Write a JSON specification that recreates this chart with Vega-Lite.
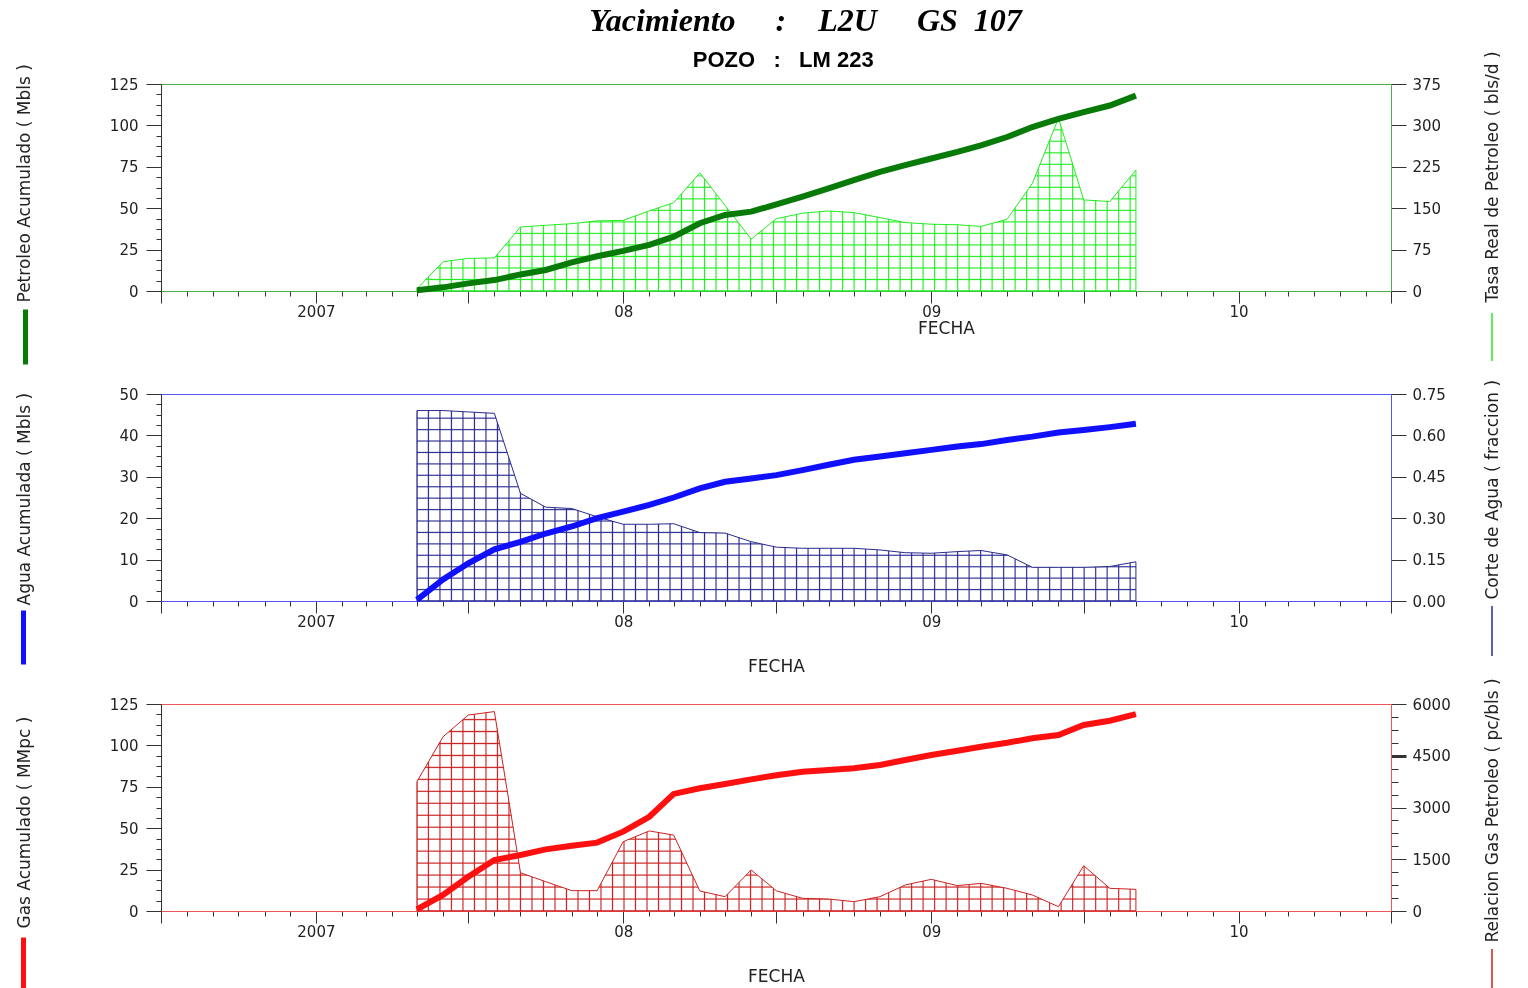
{
  "$schema": "https://vega.github.io/schema/vega-lite/v6.json",
  "background": "white",
  "padding": {"left": 14, "top": 5, "right": 5, "bottom": 0},
  "title": {
    "text": "\u200b\u00a0Yacimiento\u00a0\u00a0\u00a0\u00a0\u00a0:\u00a0\u00a0\u00a0\u00a0L2U\u00a0\u00a0\u00a0\u00a0\u00a0GS\u00a0\u00a0107",
    "subtitle": "POZO\u00a0\u00a0\u00a0:\u00a0\u00a0\u00a0LM 223\u00a0\u00a0\u00a0\u00a0\u00a0\u00a0\u200b",
    "font": "Liberation Serif", "fontSize": 32, "fontStyle": "italic", "fontWeight": "bold", "color": "#000",
    "subtitleFont": "Liberation Sans", "subtitleFontSize": 22, "subtitleFontWeight": "bold", "subtitleColor": "#000",
    "subtitlePadding": 12, "anchor": "middle", "offset": -22, "dx": 44
  },
  "data": {"values": [
    {"fecha":"2007-05-01","np":0.5,"qo":4,"wp":0.3,"wc":0.69,"gp":1.0,"rgp":3750},
    {"fecha":"2007-06-01","np":2.2,"qo":53,"wp":5.2,"wc":0.69,"gp":9.7,"rgp":5050},
    {"fecha":"2007-07-01","np":4.6,"qo":59,"wp":9.1,"wc":0.685,"gp":20.7,"rgp":5680},
    {"fecha":"2007-08-01","np":6.6,"qo":60,"wp":12.5,"wc":0.68,"gp":30.8,"rgp":5780},
    {"fecha":"2007-09-01","np":10.0,"qo":116,"wp":14.3,"wc":0.39,"gp":33.8,"rgp":1110},
    {"fecha":"2007-10-01","np":12.7,"qo":119,"wp":16.3,"wc":0.34,"gp":37.2,"rgp":850},
    {"fecha":"2007-11-01","np":17.3,"qo":122,"wp":18.0,"wc":0.335,"gp":39.4,"rgp":590},
    {"fecha":"2007-12-01","np":21.0,"qo":127,"wp":20.0,"wc":0.305,"gp":41.3,"rgp":590},
    {"fecha":"2008-01-01","np":24.2,"qo":128,"wp":21.6,"wc":0.278,"gp":47.9,"rgp":2010},
    {"fecha":"2008-02-01","np":27.8,"qo":145,"wp":23.2,"wc":0.278,"gp":56.9,"rgp":2320},
    {"fecha":"2008-03-01","np":32.8,"qo":160,"wp":25.0,"wc":0.28,"gp":70.7,"rgp":2200},
    {"fecha":"2008-04-01","np":40.9,"qo":214,"wp":27.2,"wc":0.248,"gp":74.1,"rgp":580},
    {"fecha":"2008-05-01","np":45.9,"qo":155,"wp":28.8,"wc":0.246,"gp":76.7,"rgp":415},
    {"fecha":"2008-06-01","np":47.9,"qo":94,"wp":29.6,"wc":0.215,"gp":79.5,"rgp":1190},
    {"fecha":"2008-07-01","np":52.3,"qo":131,"wp":30.4,"wc":0.195,"gp":82.0,"rgp":585},
    {"fecha":"2008-08-01","np":57,"qo":141,"wp":31.6,"wc":0.191,"gp":84.1,"rgp":367},
    {"fecha":"2008-09-01","np":62,"qo":145,"wp":32.9,"wc":0.191,"gp":85.1,"rgp":348},
    {"fecha":"2008-10-01","np":67,"qo":142,"wp":34.1,"wc":0.191,"gp":86.2,"rgp":270},
    {"fecha":"2008-11-01","np":72,"qo":133,"wp":34.9,"wc":0.185,"gp":88.2,"rgp":415},
    {"fecha":"2008-12-01","np":76,"qo":124,"wp":35.7,"wc":0.175,"gp":91.2,"rgp":754},
    {"fecha":"2009-01-01","np":80,"qo":121,"wp":36.5,"wc":0.173,"gp":94.2,"rgp":918},
    {"fecha":"2009-02-01","np":84,"qo":120,"wp":37.3,"wc":0.179,"gp":96.8,"rgp":734},
    {"fecha":"2009-03-01","np":88,"qo":117,"wp":37.9,"wc":0.183,"gp":99.2,"rgp":802},
    {"fecha":"2009-04-01","np":93,"qo":130,"wp":38.9,"wc":0.167,"gp":101.6,"rgp":657},
    {"fecha":"2009-05-01","np":99,"qo":195,"wp":39.7,"wc":0.122,"gp":104.3,"rgp":464},
    {"fecha":"2009-06-01","np":104,"qo":313,"wp":40.7,"wc":0.122,"gp":106.3,"rgp":125},
    {"fecha":"2009-07-01","np":108,"qo":165,"wp":41.3,"wc":0.122,"gp":112.3,"rgp":1313},
    {"fecha":"2009-08-01","np":112,"qo":162,"wp":42.0,"wc":0.125,"gp":114.9,"rgp":657},
    {"fecha":"2009-09-01","np":118,"qo":219,"wp":42.8,"wc":0.142,"gp":118.9,"rgp":628}
  ]},
  "bounds": "flush",
  "spacing": 103,
  "resolve": {"scale": {"color": "independent", "stroke": "independent"}, "legend": {"color": "independent", "stroke": "independent"}},
  "vconcat": [
    {
      "width": 1230, "height": 207,
      "view": {"stroke": "#50aa50", "strokeWidth": 1},
      "encoding": {
        "x": {"field": "fecha", "type": "temporal",
          "scale": {"type": "utc", "nice": false, "domain": [{"year": 2006, "month": 7, "date": 1, "utc": true}, {"year": 2010, "month": 7, "date": 1, "utc": true}]},
          "axis": {"title": "FECHA", "titleX": 785, "titleY": 37, "titleAlign": "center", "titleBaseline": "middle",
            "tickCount": {"interval": "month", "step": 1},
            "labelExpr": "utcmonth(datum.value) == 0 ? (utcyear(datum.value) == 2007 ? '2007' : substring(toString(utcyear(datum.value)), 2, 4)) : ''",
            "tickSize": {"condition": {"test": "utcmonth(datum.value) % 6 == 0", "value": 12}, "value": 5},
            "labelPadding": 1, "labelOverlap": false, "labelFlush": false, "domainColor": "#50aa50"}}
      },
      "layer": [
        {
          "encoding": {"y": {"field": "qo", "type": "quantitative", "scale": {"domain": [0, 375], "nice": false},
            "axis": {"orient": "right", "title": "Tasa Real de Petroleo ( bls/d )", "titleAngle": 270, "titleX": 101, "titleY": 218, "titleAlign": "left", "titleBaseline": "middle",
              "values": [0, 75, 150, 225, 300, 375], "tickSize": 15, "labelPadding": 6, "domainColor": "#50aa50"}}},
          "layer": [
            {"mark": {"type": "area", "fill": {"gradient": "linear", "x1": 0, "y1": 0, "x2": 1, "y2": 0, "stops": [
        {"offset":0,"color":"#000"},{"offset":0.0016,"color":"rgba(0,0,0,0)"},{"offset":0.0144,"color":"rgba(0,0,0,0)"},
        {"offset":0.016,"color":"#000"},{"offset":0.0176,"color":"rgba(0,0,0,0)"},{"offset":0.0304,"color":"rgba(0,0,0,0)"},
        {"offset":0.032,"color":"#000"},{"offset":0.0336,"color":"rgba(0,0,0,0)"},{"offset":0.0464,"color":"rgba(0,0,0,0)"},
        {"offset":0.048,"color":"#000"},{"offset":0.0496,"color":"rgba(0,0,0,0)"},{"offset":0.0624,"color":"rgba(0,0,0,0)"},
        {"offset":0.064,"color":"#000"},{"offset":0.0656,"color":"rgba(0,0,0,0)"},{"offset":0.0784,"color":"rgba(0,0,0,0)"},
        {"offset":0.08,"color":"#000"},{"offset":0.0816,"color":"rgba(0,0,0,0)"},{"offset":0.0944,"color":"rgba(0,0,0,0)"},
        {"offset":0.096,"color":"#000"},{"offset":0.0976,"color":"rgba(0,0,0,0)"},{"offset":0.1104,"color":"rgba(0,0,0,0)"},
        {"offset":0.112,"color":"#000"},{"offset":0.1136,"color":"rgba(0,0,0,0)"},{"offset":0.1264,"color":"rgba(0,0,0,0)"},
        {"offset":0.128,"color":"#000"},{"offset":0.1296,"color":"rgba(0,0,0,0)"},{"offset":0.1424,"color":"rgba(0,0,0,0)"},
        {"offset":0.144,"color":"#000"},{"offset":0.1456,"color":"rgba(0,0,0,0)"},{"offset":0.1584,"color":"rgba(0,0,0,0)"},
        {"offset":0.16,"color":"#000"},{"offset":0.1616,"color":"rgba(0,0,0,0)"},{"offset":0.1744,"color":"rgba(0,0,0,0)"},
        {"offset":0.176,"color":"#000"},{"offset":0.1776,"color":"rgba(0,0,0,0)"},{"offset":0.1904,"color":"rgba(0,0,0,0)"},
        {"offset":0.192,"color":"#000"},{"offset":0.1936,"color":"rgba(0,0,0,0)"},{"offset":0.2064,"color":"rgba(0,0,0,0)"},
        {"offset":0.208,"color":"#000"},{"offset":0.2096,"color":"rgba(0,0,0,0)"},{"offset":0.2224,"color":"rgba(0,0,0,0)"},
        {"offset":0.224,"color":"#000"},{"offset":0.2256,"color":"rgba(0,0,0,0)"},{"offset":0.2384,"color":"rgba(0,0,0,0)"},
        {"offset":0.24,"color":"#000"},{"offset":0.2416,"color":"rgba(0,0,0,0)"},{"offset":0.2544,"color":"rgba(0,0,0,0)"},
        {"offset":0.256,"color":"#000"},{"offset":0.2576,"color":"rgba(0,0,0,0)"},{"offset":0.2704,"color":"rgba(0,0,0,0)"},
        {"offset":0.272,"color":"#000"},{"offset":0.2736,"color":"rgba(0,0,0,0)"},{"offset":0.2864,"color":"rgba(0,0,0,0)"},
        {"offset":0.288,"color":"#000"},{"offset":0.2896,"color":"rgba(0,0,0,0)"},{"offset":0.3024,"color":"rgba(0,0,0,0)"},
        {"offset":0.304,"color":"#000"},{"offset":0.3056,"color":"rgba(0,0,0,0)"},{"offset":0.3184,"color":"rgba(0,0,0,0)"},
        {"offset":0.32,"color":"#000"},{"offset":0.3216,"color":"rgba(0,0,0,0)"},{"offset":0.3344,"color":"rgba(0,0,0,0)"},
        {"offset":0.336,"color":"#000"},{"offset":0.3376,"color":"rgba(0,0,0,0)"},{"offset":0.3504,"color":"rgba(0,0,0,0)"},
        {"offset":0.352,"color":"#000"},{"offset":0.3536,"color":"rgba(0,0,0,0)"},{"offset":0.3664,"color":"rgba(0,0,0,0)"},
        {"offset":0.368,"color":"#000"},{"offset":0.3696,"color":"rgba(0,0,0,0)"},{"offset":0.3824,"color":"rgba(0,0,0,0)"},
        {"offset":0.384,"color":"#000"},{"offset":0.3856,"color":"rgba(0,0,0,0)"},{"offset":0.3984,"color":"rgba(0,0,0,0)"},
        {"offset":0.4,"color":"#000"},{"offset":0.4016,"color":"rgba(0,0,0,0)"},{"offset":0.4144,"color":"rgba(0,0,0,0)"},
        {"offset":0.416,"color":"#000"},{"offset":0.4176,"color":"rgba(0,0,0,0)"},{"offset":0.4304,"color":"rgba(0,0,0,0)"},
        {"offset":0.432,"color":"#000"},{"offset":0.4336,"color":"rgba(0,0,0,0)"},{"offset":0.4464,"color":"rgba(0,0,0,0)"},
        {"offset":0.448,"color":"#000"},{"offset":0.4496,"color":"rgba(0,0,0,0)"},{"offset":0.4624,"color":"rgba(0,0,0,0)"},
        {"offset":0.464,"color":"#000"},{"offset":0.4656,"color":"rgba(0,0,0,0)"},{"offset":0.4784,"color":"rgba(0,0,0,0)"},
        {"offset":0.48,"color":"#000"},{"offset":0.4816,"color":"rgba(0,0,0,0)"},{"offset":0.4944,"color":"rgba(0,0,0,0)"},
        {"offset":0.496,"color":"#000"},{"offset":0.4976,"color":"rgba(0,0,0,0)"},{"offset":0.5104,"color":"rgba(0,0,0,0)"},
        {"offset":0.512,"color":"#000"},{"offset":0.5136,"color":"rgba(0,0,0,0)"},{"offset":0.5264,"color":"rgba(0,0,0,0)"},
        {"offset":0.528,"color":"#000"},{"offset":0.5296,"color":"rgba(0,0,0,0)"},{"offset":0.5424,"color":"rgba(0,0,0,0)"},
        {"offset":0.544,"color":"#000"},{"offset":0.5456,"color":"rgba(0,0,0,0)"},{"offset":0.5584,"color":"rgba(0,0,0,0)"},
        {"offset":0.56,"color":"#000"},{"offset":0.5616,"color":"rgba(0,0,0,0)"},{"offset":0.5744,"color":"rgba(0,0,0,0)"},
        {"offset":0.576,"color":"#000"},{"offset":0.5776,"color":"rgba(0,0,0,0)"},{"offset":0.5904,"color":"rgba(0,0,0,0)"},
        {"offset":0.592,"color":"#000"},{"offset":0.5936,"color":"rgba(0,0,0,0)"},{"offset":0.6064,"color":"rgba(0,0,0,0)"},
        {"offset":0.608,"color":"#000"},{"offset":0.6096,"color":"rgba(0,0,0,0)"},{"offset":0.6224,"color":"rgba(0,0,0,0)"},
        {"offset":0.624,"color":"#000"},{"offset":0.6256,"color":"rgba(0,0,0,0)"},{"offset":0.6384,"color":"rgba(0,0,0,0)"},
        {"offset":0.64,"color":"#000"},{"offset":0.6416,"color":"rgba(0,0,0,0)"},{"offset":0.6544,"color":"rgba(0,0,0,0)"},
        {"offset":0.656,"color":"#000"},{"offset":0.6576,"color":"rgba(0,0,0,0)"},{"offset":0.6704,"color":"rgba(0,0,0,0)"},
        {"offset":0.672,"color":"#000"},{"offset":0.6736,"color":"rgba(0,0,0,0)"},{"offset":0.6864,"color":"rgba(0,0,0,0)"},
        {"offset":0.688,"color":"#000"},{"offset":0.6896,"color":"rgba(0,0,0,0)"},{"offset":0.7024,"color":"rgba(0,0,0,0)"},
        {"offset":0.704,"color":"#000"},{"offset":0.7056,"color":"rgba(0,0,0,0)"},{"offset":0.7184,"color":"rgba(0,0,0,0)"},
        {"offset":0.72,"color":"#000"},{"offset":0.7216,"color":"rgba(0,0,0,0)"},{"offset":0.7344,"color":"rgba(0,0,0,0)"},
        {"offset":0.736,"color":"#000"},{"offset":0.7376,"color":"rgba(0,0,0,0)"},{"offset":0.7504,"color":"rgba(0,0,0,0)"},
        {"offset":0.752,"color":"#000"},{"offset":0.7536,"color":"rgba(0,0,0,0)"},{"offset":0.7664,"color":"rgba(0,0,0,0)"},
        {"offset":0.768,"color":"#000"},{"offset":0.7696,"color":"rgba(0,0,0,0)"},{"offset":0.7824,"color":"rgba(0,0,0,0)"},
        {"offset":0.784,"color":"#000"},{"offset":0.7856,"color":"rgba(0,0,0,0)"},{"offset":0.7984,"color":"rgba(0,0,0,0)"},
        {"offset":0.8,"color":"#000"},{"offset":0.8016,"color":"rgba(0,0,0,0)"},{"offset":0.8144,"color":"rgba(0,0,0,0)"},
        {"offset":0.816,"color":"#000"},{"offset":0.8176,"color":"rgba(0,0,0,0)"},{"offset":0.8304,"color":"rgba(0,0,0,0)"},
        {"offset":0.832,"color":"#000"},{"offset":0.8336,"color":"rgba(0,0,0,0)"},{"offset":0.8464,"color":"rgba(0,0,0,0)"},
        {"offset":0.848,"color":"#000"},{"offset":0.8496,"color":"rgba(0,0,0,0)"},{"offset":0.8624,"color":"rgba(0,0,0,0)"},
        {"offset":0.864,"color":"#000"},{"offset":0.8656,"color":"rgba(0,0,0,0)"},{"offset":0.8784,"color":"rgba(0,0,0,0)"},
        {"offset":0.88,"color":"#000"},{"offset":0.8816,"color":"rgba(0,0,0,0)"},{"offset":0.8944,"color":"rgba(0,0,0,0)"},
        {"offset":0.896,"color":"#000"},{"offset":0.8976,"color":"rgba(0,0,0,0)"},{"offset":0.9104,"color":"rgba(0,0,0,0)"},
        {"offset":0.912,"color":"#000"},{"offset":0.9136,"color":"rgba(0,0,0,0)"},{"offset":0.9264,"color":"rgba(0,0,0,0)"},
        {"offset":0.928,"color":"#000"},{"offset":0.9296,"color":"rgba(0,0,0,0)"},{"offset":0.9424,"color":"rgba(0,0,0,0)"},
        {"offset":0.944,"color":"#000"},{"offset":0.9456,"color":"rgba(0,0,0,0)"},{"offset":0.9584,"color":"rgba(0,0,0,0)"},
        {"offset":0.96,"color":"#000"},{"offset":0.9616,"color":"rgba(0,0,0,0)"},{"offset":0.9744,"color":"rgba(0,0,0,0)"},
        {"offset":0.976,"color":"#000"},{"offset":0.9776,"color":"rgba(0,0,0,0)"},{"offset":0.9904,"color":"rgba(0,0,0,0)"},
        {"offset":0.992,"color":"#000"},{"offset":0.9936,"color":"rgba(0,0,0,0)"},{"offset":1,"color":"rgba(0,0,0,0)"}
            ]}}},
            {"mark": {"type": "area", "fill": {"gradient": "linear", "x1": 0, "y1": 1, "x2": 0, "y2": 0, "stops": [
        {"offset":0,"color":"#000"},{"offset":0.0066,"color":"rgba(0,0,0,0)"},{"offset":0.0601,"color":"rgba(0,0,0,0)"},
        {"offset":0.0667,"color":"#000"},{"offset":0.0733,"color":"rgba(0,0,0,0)"},{"offset":0.1267,"color":"rgba(0,0,0,0)"},
        {"offset":0.1333,"color":"#000"},{"offset":0.1399,"color":"rgba(0,0,0,0)"},{"offset":0.1933,"color":"rgba(0,0,0,0)"},
        {"offset":0.2,"color":"#000"},{"offset":0.2066,"color":"rgba(0,0,0,0)"},{"offset":0.26,"color":"rgba(0,0,0,0)"},
        {"offset":0.2667,"color":"#000"},{"offset":0.2733,"color":"rgba(0,0,0,0)"},{"offset":0.3267,"color":"rgba(0,0,0,0)"},
        {"offset":0.3333,"color":"#000"},{"offset":0.3399,"color":"rgba(0,0,0,0)"},{"offset":0.3933,"color":"rgba(0,0,0,0)"},
        {"offset":0.4,"color":"#000"},{"offset":0.4066,"color":"rgba(0,0,0,0)"},{"offset":0.46,"color":"rgba(0,0,0,0)"},
        {"offset":0.4667,"color":"#000"},{"offset":0.4733,"color":"rgba(0,0,0,0)"},{"offset":0.5267,"color":"rgba(0,0,0,0)"},
        {"offset":0.5333,"color":"#000"},{"offset":0.5399,"color":"rgba(0,0,0,0)"},{"offset":0.5933,"color":"rgba(0,0,0,0)"},
        {"offset":0.6,"color":"#000"},{"offset":0.6066,"color":"rgba(0,0,0,0)"},{"offset":0.66,"color":"rgba(0,0,0,0)"},
        {"offset":0.6667,"color":"#000"},{"offset":0.6733,"color":"rgba(0,0,0,0)"},{"offset":0.7267,"color":"rgba(0,0,0,0)"},
        {"offset":0.7333,"color":"#000"},{"offset":0.7399,"color":"rgba(0,0,0,0)"},{"offset":0.7933,"color":"rgba(0,0,0,0)"},
        {"offset":0.8,"color":"#000"},{"offset":0.8066,"color":"rgba(0,0,0,0)"},{"offset":0.86,"color":"rgba(0,0,0,0)"},
        {"offset":0.8667,"color":"#000"},{"offset":0.8733,"color":"rgba(0,0,0,0)"},{"offset":0.9267,"color":"rgba(0,0,0,0)"},
        {"offset":0.9333,"color":"#000"},{"offset":0.9399,"color":"rgba(0,0,0,0)"},{"offset":0.9933,"color":"rgba(0,0,0,0)"},
        {"offset":1,"color":"#000"}
            ]}}},
            {"mark": {"type": "area", "color": "#22ee22", "blend": "screen"}},
            {"mark": {"type": "area", "fillOpacity": 0, "strokeWidth": 1},
             "encoding": {"stroke": {"datum": "qo", "scale": {"range": ["#22ee22"]},
               "legend": {"orient": "none", "legendX": 1282, "legendY": 228, "title": null, "labelExpr": "''", "symbolType": "M1,-1L1,1", "symbolSize": 2304, "symbolStrokeWidth": 1.5, "symbolStrokeColor": "#22ee22", "symbolOpacity": 1, "padding": 0, "labelOffset": 0}}}}
          ]
        },
        {
          "mark": {"type": "line", "strokeWidth": 6},
          "encoding": {
            "color": {"datum": "np", "scale": {"range": ["#087a08"]},
              "legend": {"orient": "none", "legendX": -138, "legendY": 223, "title": null, "labelExpr": "''", "symbolType": "M-1,-1L-1,1", "symbolSize": 3025, "symbolStrokeWidth": 5, "padding": 0, "labelOffset": 0}},
            "y": {"field": "np", "type": "quantitative", "scale": {"domain": [0, 125], "nice": false},
            "axis": {"orient": "left", "title": "Petroleo Acumulado ( Mbls )", "titleAngle": 270, "titleX": -137, "titleY": 218, "titleAlign": "left", "titleBaseline": "middle",
              "values": [0, 6.25, 12.5, 18.75, 25, 31.25, 37.5, 43.75, 50, 56.25, 62.5, 68.75, 75, 81.25, 87.5, 93.75, 100, 106.25, 112.5, 118.75, 125],
              "labelExpr": "datum.value % 25 == 0 ? format(datum.value, 'd') : ''",
              "tickSize": {"condition": {"test": "datum.value % 25 == 0", "value": 15}, "value": 5},
              "labelPadding": 8, "domainColor": "#333333"}}}
        }
      ],
      "resolve": {"scale": {"y": "independent"}}
    },
    {
      "width": 1230, "height": 207,
      "view": {"stroke": "#5555ee", "strokeWidth": 1},
      "encoding": {
        "x": {"field": "fecha", "type": "temporal",
          "scale": {"type": "utc", "nice": false, "domain": [{"year": 2006, "month": 7, "date": 1, "utc": true}, {"year": 2010, "month": 7, "date": 1, "utc": true}]},
          "axis": {"title": "FECHA", "titleY": 65, "titleAlign": "center", "titleBaseline": "middle",
            "tickCount": {"interval": "month", "step": 1},
            "labelExpr": "utcmonth(datum.value) == 0 ? (utcyear(datum.value) == 2007 ? '2007' : substring(toString(utcyear(datum.value)), 2, 4)) : ''",
            "tickSize": {"condition": {"test": "utcmonth(datum.value) % 6 == 0", "value": 12}, "value": 5},
            "labelPadding": 1, "labelOverlap": false, "labelFlush": false, "domainColor": "#5555ee"}}
      },
      "layer": [
        {
          "encoding": {"y": {"field": "wc", "type": "quantitative", "scale": {"domain": [0, 0.75], "nice": false},
            "axis": {"orient": "right", "title": "Corte de Agua ( fraccion )", "titleAngle": 270, "titleX": 101, "titleY": 205, "titleAlign": "left", "titleBaseline": "middle",
              "values": [0, 0.15, 0.3, 0.45, 0.6, 0.75], "format": ".2f", "tickSize": 15, "labelPadding": 6, "domainColor": "#5555ee"}}},
          "layer": [
            {"mark": {"type": "area", "fill": {"gradient": "linear", "x1": 0, "y1": 0, "x2": 1, "y2": 0, "stops": [
        {"offset":0,"color":"#000"},{"offset":0.0016,"color":"rgba(0,0,0,0)"},{"offset":0.0144,"color":"rgba(0,0,0,0)"},
        {"offset":0.016,"color":"#000"},{"offset":0.0176,"color":"rgba(0,0,0,0)"},{"offset":0.0304,"color":"rgba(0,0,0,0)"},
        {"offset":0.032,"color":"#000"},{"offset":0.0336,"color":"rgba(0,0,0,0)"},{"offset":0.0464,"color":"rgba(0,0,0,0)"},
        {"offset":0.048,"color":"#000"},{"offset":0.0496,"color":"rgba(0,0,0,0)"},{"offset":0.0624,"color":"rgba(0,0,0,0)"},
        {"offset":0.064,"color":"#000"},{"offset":0.0656,"color":"rgba(0,0,0,0)"},{"offset":0.0784,"color":"rgba(0,0,0,0)"},
        {"offset":0.08,"color":"#000"},{"offset":0.0816,"color":"rgba(0,0,0,0)"},{"offset":0.0944,"color":"rgba(0,0,0,0)"},
        {"offset":0.096,"color":"#000"},{"offset":0.0976,"color":"rgba(0,0,0,0)"},{"offset":0.1104,"color":"rgba(0,0,0,0)"},
        {"offset":0.112,"color":"#000"},{"offset":0.1136,"color":"rgba(0,0,0,0)"},{"offset":0.1264,"color":"rgba(0,0,0,0)"},
        {"offset":0.128,"color":"#000"},{"offset":0.1296,"color":"rgba(0,0,0,0)"},{"offset":0.1424,"color":"rgba(0,0,0,0)"},
        {"offset":0.144,"color":"#000"},{"offset":0.1456,"color":"rgba(0,0,0,0)"},{"offset":0.1584,"color":"rgba(0,0,0,0)"},
        {"offset":0.16,"color":"#000"},{"offset":0.1616,"color":"rgba(0,0,0,0)"},{"offset":0.1744,"color":"rgba(0,0,0,0)"},
        {"offset":0.176,"color":"#000"},{"offset":0.1776,"color":"rgba(0,0,0,0)"},{"offset":0.1904,"color":"rgba(0,0,0,0)"},
        {"offset":0.192,"color":"#000"},{"offset":0.1936,"color":"rgba(0,0,0,0)"},{"offset":0.2064,"color":"rgba(0,0,0,0)"},
        {"offset":0.208,"color":"#000"},{"offset":0.2096,"color":"rgba(0,0,0,0)"},{"offset":0.2224,"color":"rgba(0,0,0,0)"},
        {"offset":0.224,"color":"#000"},{"offset":0.2256,"color":"rgba(0,0,0,0)"},{"offset":0.2384,"color":"rgba(0,0,0,0)"},
        {"offset":0.24,"color":"#000"},{"offset":0.2416,"color":"rgba(0,0,0,0)"},{"offset":0.2544,"color":"rgba(0,0,0,0)"},
        {"offset":0.256,"color":"#000"},{"offset":0.2576,"color":"rgba(0,0,0,0)"},{"offset":0.2704,"color":"rgba(0,0,0,0)"},
        {"offset":0.272,"color":"#000"},{"offset":0.2736,"color":"rgba(0,0,0,0)"},{"offset":0.2864,"color":"rgba(0,0,0,0)"},
        {"offset":0.288,"color":"#000"},{"offset":0.2896,"color":"rgba(0,0,0,0)"},{"offset":0.3024,"color":"rgba(0,0,0,0)"},
        {"offset":0.304,"color":"#000"},{"offset":0.3056,"color":"rgba(0,0,0,0)"},{"offset":0.3184,"color":"rgba(0,0,0,0)"},
        {"offset":0.32,"color":"#000"},{"offset":0.3216,"color":"rgba(0,0,0,0)"},{"offset":0.3344,"color":"rgba(0,0,0,0)"},
        {"offset":0.336,"color":"#000"},{"offset":0.3376,"color":"rgba(0,0,0,0)"},{"offset":0.3504,"color":"rgba(0,0,0,0)"},
        {"offset":0.352,"color":"#000"},{"offset":0.3536,"color":"rgba(0,0,0,0)"},{"offset":0.3664,"color":"rgba(0,0,0,0)"},
        {"offset":0.368,"color":"#000"},{"offset":0.3696,"color":"rgba(0,0,0,0)"},{"offset":0.3824,"color":"rgba(0,0,0,0)"},
        {"offset":0.384,"color":"#000"},{"offset":0.3856,"color":"rgba(0,0,0,0)"},{"offset":0.3984,"color":"rgba(0,0,0,0)"},
        {"offset":0.4,"color":"#000"},{"offset":0.4016,"color":"rgba(0,0,0,0)"},{"offset":0.4144,"color":"rgba(0,0,0,0)"},
        {"offset":0.416,"color":"#000"},{"offset":0.4176,"color":"rgba(0,0,0,0)"},{"offset":0.4304,"color":"rgba(0,0,0,0)"},
        {"offset":0.432,"color":"#000"},{"offset":0.4336,"color":"rgba(0,0,0,0)"},{"offset":0.4464,"color":"rgba(0,0,0,0)"},
        {"offset":0.448,"color":"#000"},{"offset":0.4496,"color":"rgba(0,0,0,0)"},{"offset":0.4624,"color":"rgba(0,0,0,0)"},
        {"offset":0.464,"color":"#000"},{"offset":0.4656,"color":"rgba(0,0,0,0)"},{"offset":0.4784,"color":"rgba(0,0,0,0)"},
        {"offset":0.48,"color":"#000"},{"offset":0.4816,"color":"rgba(0,0,0,0)"},{"offset":0.4944,"color":"rgba(0,0,0,0)"},
        {"offset":0.496,"color":"#000"},{"offset":0.4976,"color":"rgba(0,0,0,0)"},{"offset":0.5104,"color":"rgba(0,0,0,0)"},
        {"offset":0.512,"color":"#000"},{"offset":0.5136,"color":"rgba(0,0,0,0)"},{"offset":0.5264,"color":"rgba(0,0,0,0)"},
        {"offset":0.528,"color":"#000"},{"offset":0.5296,"color":"rgba(0,0,0,0)"},{"offset":0.5424,"color":"rgba(0,0,0,0)"},
        {"offset":0.544,"color":"#000"},{"offset":0.5456,"color":"rgba(0,0,0,0)"},{"offset":0.5584,"color":"rgba(0,0,0,0)"},
        {"offset":0.56,"color":"#000"},{"offset":0.5616,"color":"rgba(0,0,0,0)"},{"offset":0.5744,"color":"rgba(0,0,0,0)"},
        {"offset":0.576,"color":"#000"},{"offset":0.5776,"color":"rgba(0,0,0,0)"},{"offset":0.5904,"color":"rgba(0,0,0,0)"},
        {"offset":0.592,"color":"#000"},{"offset":0.5936,"color":"rgba(0,0,0,0)"},{"offset":0.6064,"color":"rgba(0,0,0,0)"},
        {"offset":0.608,"color":"#000"},{"offset":0.6096,"color":"rgba(0,0,0,0)"},{"offset":0.6224,"color":"rgba(0,0,0,0)"},
        {"offset":0.624,"color":"#000"},{"offset":0.6256,"color":"rgba(0,0,0,0)"},{"offset":0.6384,"color":"rgba(0,0,0,0)"},
        {"offset":0.64,"color":"#000"},{"offset":0.6416,"color":"rgba(0,0,0,0)"},{"offset":0.6544,"color":"rgba(0,0,0,0)"},
        {"offset":0.656,"color":"#000"},{"offset":0.6576,"color":"rgba(0,0,0,0)"},{"offset":0.6704,"color":"rgba(0,0,0,0)"},
        {"offset":0.672,"color":"#000"},{"offset":0.6736,"color":"rgba(0,0,0,0)"},{"offset":0.6864,"color":"rgba(0,0,0,0)"},
        {"offset":0.688,"color":"#000"},{"offset":0.6896,"color":"rgba(0,0,0,0)"},{"offset":0.7024,"color":"rgba(0,0,0,0)"},
        {"offset":0.704,"color":"#000"},{"offset":0.7056,"color":"rgba(0,0,0,0)"},{"offset":0.7184,"color":"rgba(0,0,0,0)"},
        {"offset":0.72,"color":"#000"},{"offset":0.7216,"color":"rgba(0,0,0,0)"},{"offset":0.7344,"color":"rgba(0,0,0,0)"},
        {"offset":0.736,"color":"#000"},{"offset":0.7376,"color":"rgba(0,0,0,0)"},{"offset":0.7504,"color":"rgba(0,0,0,0)"},
        {"offset":0.752,"color":"#000"},{"offset":0.7536,"color":"rgba(0,0,0,0)"},{"offset":0.7664,"color":"rgba(0,0,0,0)"},
        {"offset":0.768,"color":"#000"},{"offset":0.7696,"color":"rgba(0,0,0,0)"},{"offset":0.7824,"color":"rgba(0,0,0,0)"},
        {"offset":0.784,"color":"#000"},{"offset":0.7856,"color":"rgba(0,0,0,0)"},{"offset":0.7984,"color":"rgba(0,0,0,0)"},
        {"offset":0.8,"color":"#000"},{"offset":0.8016,"color":"rgba(0,0,0,0)"},{"offset":0.8144,"color":"rgba(0,0,0,0)"},
        {"offset":0.816,"color":"#000"},{"offset":0.8176,"color":"rgba(0,0,0,0)"},{"offset":0.8304,"color":"rgba(0,0,0,0)"},
        {"offset":0.832,"color":"#000"},{"offset":0.8336,"color":"rgba(0,0,0,0)"},{"offset":0.8464,"color":"rgba(0,0,0,0)"},
        {"offset":0.848,"color":"#000"},{"offset":0.8496,"color":"rgba(0,0,0,0)"},{"offset":0.8624,"color":"rgba(0,0,0,0)"},
        {"offset":0.864,"color":"#000"},{"offset":0.8656,"color":"rgba(0,0,0,0)"},{"offset":0.8784,"color":"rgba(0,0,0,0)"},
        {"offset":0.88,"color":"#000"},{"offset":0.8816,"color":"rgba(0,0,0,0)"},{"offset":0.8944,"color":"rgba(0,0,0,0)"},
        {"offset":0.896,"color":"#000"},{"offset":0.8976,"color":"rgba(0,0,0,0)"},{"offset":0.9104,"color":"rgba(0,0,0,0)"},
        {"offset":0.912,"color":"#000"},{"offset":0.9136,"color":"rgba(0,0,0,0)"},{"offset":0.9264,"color":"rgba(0,0,0,0)"},
        {"offset":0.928,"color":"#000"},{"offset":0.9296,"color":"rgba(0,0,0,0)"},{"offset":0.9424,"color":"rgba(0,0,0,0)"},
        {"offset":0.944,"color":"#000"},{"offset":0.9456,"color":"rgba(0,0,0,0)"},{"offset":0.9584,"color":"rgba(0,0,0,0)"},
        {"offset":0.96,"color":"#000"},{"offset":0.9616,"color":"rgba(0,0,0,0)"},{"offset":0.9744,"color":"rgba(0,0,0,0)"},
        {"offset":0.976,"color":"#000"},{"offset":0.9776,"color":"rgba(0,0,0,0)"},{"offset":0.9904,"color":"rgba(0,0,0,0)"},
        {"offset":0.992,"color":"#000"},{"offset":0.9936,"color":"rgba(0,0,0,0)"},{"offset":1,"color":"rgba(0,0,0,0)"}
            ]}}},
            {"mark": {"type": "area", "fill": {"gradient": "linear", "x1": 0, "y1": 1, "x2": 0, "y2": 0, "stops": [
        {"offset":0,"color":"#000"},{"offset":0.006,"color":"rgba(0,0,0,0)"},{"offset":0.054,"color":"rgba(0,0,0,0)"},
        {"offset":0.06,"color":"#000"},{"offset":0.066,"color":"rgba(0,0,0,0)"},{"offset":0.114,"color":"rgba(0,0,0,0)"},
        {"offset":0.12,"color":"#000"},{"offset":0.126,"color":"rgba(0,0,0,0)"},{"offset":0.174,"color":"rgba(0,0,0,0)"},
        {"offset":0.18,"color":"#000"},{"offset":0.186,"color":"rgba(0,0,0,0)"},{"offset":0.234,"color":"rgba(0,0,0,0)"},
        {"offset":0.24,"color":"#000"},{"offset":0.246,"color":"rgba(0,0,0,0)"},{"offset":0.294,"color":"rgba(0,0,0,0)"},
        {"offset":0.3,"color":"#000"},{"offset":0.306,"color":"rgba(0,0,0,0)"},{"offset":0.354,"color":"rgba(0,0,0,0)"},
        {"offset":0.36,"color":"#000"},{"offset":0.366,"color":"rgba(0,0,0,0)"},{"offset":0.414,"color":"rgba(0,0,0,0)"},
        {"offset":0.42,"color":"#000"},{"offset":0.426,"color":"rgba(0,0,0,0)"},{"offset":0.474,"color":"rgba(0,0,0,0)"},
        {"offset":0.48,"color":"#000"},{"offset":0.486,"color":"rgba(0,0,0,0)"},{"offset":0.534,"color":"rgba(0,0,0,0)"},
        {"offset":0.54,"color":"#000"},{"offset":0.546,"color":"rgba(0,0,0,0)"},{"offset":0.594,"color":"rgba(0,0,0,0)"},
        {"offset":0.6,"color":"#000"},{"offset":0.606,"color":"rgba(0,0,0,0)"},{"offset":0.654,"color":"rgba(0,0,0,0)"},
        {"offset":0.66,"color":"#000"},{"offset":0.666,"color":"rgba(0,0,0,0)"},{"offset":0.714,"color":"rgba(0,0,0,0)"},
        {"offset":0.72,"color":"#000"},{"offset":0.726,"color":"rgba(0,0,0,0)"},{"offset":0.774,"color":"rgba(0,0,0,0)"},
        {"offset":0.78,"color":"#000"},{"offset":0.786,"color":"rgba(0,0,0,0)"},{"offset":0.834,"color":"rgba(0,0,0,0)"},
        {"offset":0.84,"color":"#000"},{"offset":0.846,"color":"rgba(0,0,0,0)"},{"offset":0.894,"color":"rgba(0,0,0,0)"},
        {"offset":0.9,"color":"#000"},{"offset":0.906,"color":"rgba(0,0,0,0)"},{"offset":0.954,"color":"rgba(0,0,0,0)"},
        {"offset":0.96,"color":"#000"},{"offset":0.966,"color":"rgba(0,0,0,0)"},{"offset":1,"color":"rgba(0,0,0,0)"}
            ]}}},
            {"mark": {"type": "area", "color": "#2a2a90", "blend": "screen"}},
            {"mark": {"type": "area", "fillOpacity": 0, "strokeWidth": 1},
             "encoding": {"stroke": {"datum": "wc", "scale": {"range": ["#2a2a90"]},
               "legend": {"orient": "none", "legendX": 1280, "legendY": 211, "title": null, "labelExpr": "''", "symbolType": "M1,-1L1,1", "symbolSize": 2500, "symbolStrokeWidth": 1.5, "symbolStrokeColor": "#2a2a90", "symbolOpacity": 1, "padding": 0, "labelOffset": 0}}}}
          ]
        },
        {
          "mark": {"type": "line", "strokeWidth": 6},
          "encoding": {
            "color": {"datum": "wp", "scale": {"range": ["#1010ff"]},
              "legend": {"orient": "none", "legendX": -140, "legendY": 214, "title": null, "labelExpr": "''", "symbolType": "M-1,-1L-1,1", "symbolSize": 2916, "symbolStrokeWidth": 5, "padding": 0, "labelOffset": 0}},
            "y": {"field": "wp", "type": "quantitative", "scale": {"domain": [0, 50], "nice": false},
            "axis": {"orient": "left", "title": "Agua Acumulada ( Mbls )", "titleAngle": 270, "titleX": -137, "titleY": 211, "titleAlign": "left", "titleBaseline": "middle",
              "values": [0, 2.5, 5, 7.5, 10, 12.5, 15, 17.5, 20, 22.5, 25, 27.5, 30, 32.5, 35, 37.5, 40, 42.5, 45, 47.5, 50],
              "labelExpr": "datum.value % 10 == 0 ? format(datum.value, 'd') : ''",
              "tickSize": {"condition": {"test": "datum.value % 10 == 0", "value": 15}, "value": 5},
              "labelPadding": 8, "domainColor": "#333333"}}}
        }
      ],
      "resolve": {"scale": {"y": "independent"}}
    },
    {
      "width": 1230, "height": 207,
      "view": {"stroke": "#ee5555", "strokeWidth": 1},
      "encoding": {
        "x": {"field": "fecha", "type": "temporal",
          "scale": {"type": "utc", "nice": false, "domain": [{"year": 2006, "month": 7, "date": 1, "utc": true}, {"year": 2010, "month": 7, "date": 1, "utc": true}]},
          "axis": {"title": "FECHA", "titleY": 65, "titleAlign": "center", "titleBaseline": "middle",
            "tickCount": {"interval": "month", "step": 1},
            "labelExpr": "utcmonth(datum.value) == 0 ? (utcyear(datum.value) == 2007 ? '2007' : substring(toString(utcyear(datum.value)), 2, 4)) : ''",
            "tickSize": {"condition": {"test": "utcmonth(datum.value) % 6 == 0", "value": 12}, "value": 5},
            "labelPadding": 1, "labelOverlap": false, "labelFlush": false, "domainColor": "#ee5555"}}
      },
      "layer": [
        {
          "encoding": {"y": {"field": "rgp", "type": "quantitative", "scale": {"domain": [0, 6000], "nice": false},
            "axis": {"orient": "right", "title": "Relacion Gas Petroleo ( pc/bls )", "titleAngle": 270, "titleX": 101, "titleY": 238, "titleAlign": "left", "titleBaseline": "middle",
              "values": [0, 375, 750, 1125, 1500, 1875, 2250, 2625, 3000, 3375, 3750, 4125, 4500, 4875, 5250, 5625, 6000],
              "labelExpr": "datum.value % 1500 == 0 ? format(datum.value, 'd') : ''",
              "tickSize": {"condition": {"test": "datum.value % 1500 == 0", "value": 15}, "value": 7},
              "tickWidth": {"condition": {"test": "datum.value == 4500", "value": 3}, "value": 1},
              "labelPadding": 6, "domainColor": "#ee5555"}}},
          "layer": [
            {"mark": {"type": "area", "fill": {"gradient": "linear", "x1": 0, "y1": 0, "x2": 1, "y2": 0, "stops": [
        {"offset":0,"color":"#000"},{"offset":0.0016,"color":"rgba(0,0,0,0)"},{"offset":0.0144,"color":"rgba(0,0,0,0)"},
        {"offset":0.016,"color":"#000"},{"offset":0.0176,"color":"rgba(0,0,0,0)"},{"offset":0.0304,"color":"rgba(0,0,0,0)"},
        {"offset":0.032,"color":"#000"},{"offset":0.0336,"color":"rgba(0,0,0,0)"},{"offset":0.0464,"color":"rgba(0,0,0,0)"},
        {"offset":0.048,"color":"#000"},{"offset":0.0496,"color":"rgba(0,0,0,0)"},{"offset":0.0624,"color":"rgba(0,0,0,0)"},
        {"offset":0.064,"color":"#000"},{"offset":0.0656,"color":"rgba(0,0,0,0)"},{"offset":0.0784,"color":"rgba(0,0,0,0)"},
        {"offset":0.08,"color":"#000"},{"offset":0.0816,"color":"rgba(0,0,0,0)"},{"offset":0.0944,"color":"rgba(0,0,0,0)"},
        {"offset":0.096,"color":"#000"},{"offset":0.0976,"color":"rgba(0,0,0,0)"},{"offset":0.1104,"color":"rgba(0,0,0,0)"},
        {"offset":0.112,"color":"#000"},{"offset":0.1136,"color":"rgba(0,0,0,0)"},{"offset":0.1264,"color":"rgba(0,0,0,0)"},
        {"offset":0.128,"color":"#000"},{"offset":0.1296,"color":"rgba(0,0,0,0)"},{"offset":0.1424,"color":"rgba(0,0,0,0)"},
        {"offset":0.144,"color":"#000"},{"offset":0.1456,"color":"rgba(0,0,0,0)"},{"offset":0.1584,"color":"rgba(0,0,0,0)"},
        {"offset":0.16,"color":"#000"},{"offset":0.1616,"color":"rgba(0,0,0,0)"},{"offset":0.1744,"color":"rgba(0,0,0,0)"},
        {"offset":0.176,"color":"#000"},{"offset":0.1776,"color":"rgba(0,0,0,0)"},{"offset":0.1904,"color":"rgba(0,0,0,0)"},
        {"offset":0.192,"color":"#000"},{"offset":0.1936,"color":"rgba(0,0,0,0)"},{"offset":0.2064,"color":"rgba(0,0,0,0)"},
        {"offset":0.208,"color":"#000"},{"offset":0.2096,"color":"rgba(0,0,0,0)"},{"offset":0.2224,"color":"rgba(0,0,0,0)"},
        {"offset":0.224,"color":"#000"},{"offset":0.2256,"color":"rgba(0,0,0,0)"},{"offset":0.2384,"color":"rgba(0,0,0,0)"},
        {"offset":0.24,"color":"#000"},{"offset":0.2416,"color":"rgba(0,0,0,0)"},{"offset":0.2544,"color":"rgba(0,0,0,0)"},
        {"offset":0.256,"color":"#000"},{"offset":0.2576,"color":"rgba(0,0,0,0)"},{"offset":0.2704,"color":"rgba(0,0,0,0)"},
        {"offset":0.272,"color":"#000"},{"offset":0.2736,"color":"rgba(0,0,0,0)"},{"offset":0.2864,"color":"rgba(0,0,0,0)"},
        {"offset":0.288,"color":"#000"},{"offset":0.2896,"color":"rgba(0,0,0,0)"},{"offset":0.3024,"color":"rgba(0,0,0,0)"},
        {"offset":0.304,"color":"#000"},{"offset":0.3056,"color":"rgba(0,0,0,0)"},{"offset":0.3184,"color":"rgba(0,0,0,0)"},
        {"offset":0.32,"color":"#000"},{"offset":0.3216,"color":"rgba(0,0,0,0)"},{"offset":0.3344,"color":"rgba(0,0,0,0)"},
        {"offset":0.336,"color":"#000"},{"offset":0.3376,"color":"rgba(0,0,0,0)"},{"offset":0.3504,"color":"rgba(0,0,0,0)"},
        {"offset":0.352,"color":"#000"},{"offset":0.3536,"color":"rgba(0,0,0,0)"},{"offset":0.3664,"color":"rgba(0,0,0,0)"},
        {"offset":0.368,"color":"#000"},{"offset":0.3696,"color":"rgba(0,0,0,0)"},{"offset":0.3824,"color":"rgba(0,0,0,0)"},
        {"offset":0.384,"color":"#000"},{"offset":0.3856,"color":"rgba(0,0,0,0)"},{"offset":0.3984,"color":"rgba(0,0,0,0)"},
        {"offset":0.4,"color":"#000"},{"offset":0.4016,"color":"rgba(0,0,0,0)"},{"offset":0.4144,"color":"rgba(0,0,0,0)"},
        {"offset":0.416,"color":"#000"},{"offset":0.4176,"color":"rgba(0,0,0,0)"},{"offset":0.4304,"color":"rgba(0,0,0,0)"},
        {"offset":0.432,"color":"#000"},{"offset":0.4336,"color":"rgba(0,0,0,0)"},{"offset":0.4464,"color":"rgba(0,0,0,0)"},
        {"offset":0.448,"color":"#000"},{"offset":0.4496,"color":"rgba(0,0,0,0)"},{"offset":0.4624,"color":"rgba(0,0,0,0)"},
        {"offset":0.464,"color":"#000"},{"offset":0.4656,"color":"rgba(0,0,0,0)"},{"offset":0.4784,"color":"rgba(0,0,0,0)"},
        {"offset":0.48,"color":"#000"},{"offset":0.4816,"color":"rgba(0,0,0,0)"},{"offset":0.4944,"color":"rgba(0,0,0,0)"},
        {"offset":0.496,"color":"#000"},{"offset":0.4976,"color":"rgba(0,0,0,0)"},{"offset":0.5104,"color":"rgba(0,0,0,0)"},
        {"offset":0.512,"color":"#000"},{"offset":0.5136,"color":"rgba(0,0,0,0)"},{"offset":0.5264,"color":"rgba(0,0,0,0)"},
        {"offset":0.528,"color":"#000"},{"offset":0.5296,"color":"rgba(0,0,0,0)"},{"offset":0.5424,"color":"rgba(0,0,0,0)"},
        {"offset":0.544,"color":"#000"},{"offset":0.5456,"color":"rgba(0,0,0,0)"},{"offset":0.5584,"color":"rgba(0,0,0,0)"},
        {"offset":0.56,"color":"#000"},{"offset":0.5616,"color":"rgba(0,0,0,0)"},{"offset":0.5744,"color":"rgba(0,0,0,0)"},
        {"offset":0.576,"color":"#000"},{"offset":0.5776,"color":"rgba(0,0,0,0)"},{"offset":0.5904,"color":"rgba(0,0,0,0)"},
        {"offset":0.592,"color":"#000"},{"offset":0.5936,"color":"rgba(0,0,0,0)"},{"offset":0.6064,"color":"rgba(0,0,0,0)"},
        {"offset":0.608,"color":"#000"},{"offset":0.6096,"color":"rgba(0,0,0,0)"},{"offset":0.6224,"color":"rgba(0,0,0,0)"},
        {"offset":0.624,"color":"#000"},{"offset":0.6256,"color":"rgba(0,0,0,0)"},{"offset":0.6384,"color":"rgba(0,0,0,0)"},
        {"offset":0.64,"color":"#000"},{"offset":0.6416,"color":"rgba(0,0,0,0)"},{"offset":0.6544,"color":"rgba(0,0,0,0)"},
        {"offset":0.656,"color":"#000"},{"offset":0.6576,"color":"rgba(0,0,0,0)"},{"offset":0.6704,"color":"rgba(0,0,0,0)"},
        {"offset":0.672,"color":"#000"},{"offset":0.6736,"color":"rgba(0,0,0,0)"},{"offset":0.6864,"color":"rgba(0,0,0,0)"},
        {"offset":0.688,"color":"#000"},{"offset":0.6896,"color":"rgba(0,0,0,0)"},{"offset":0.7024,"color":"rgba(0,0,0,0)"},
        {"offset":0.704,"color":"#000"},{"offset":0.7056,"color":"rgba(0,0,0,0)"},{"offset":0.7184,"color":"rgba(0,0,0,0)"},
        {"offset":0.72,"color":"#000"},{"offset":0.7216,"color":"rgba(0,0,0,0)"},{"offset":0.7344,"color":"rgba(0,0,0,0)"},
        {"offset":0.736,"color":"#000"},{"offset":0.7376,"color":"rgba(0,0,0,0)"},{"offset":0.7504,"color":"rgba(0,0,0,0)"},
        {"offset":0.752,"color":"#000"},{"offset":0.7536,"color":"rgba(0,0,0,0)"},{"offset":0.7664,"color":"rgba(0,0,0,0)"},
        {"offset":0.768,"color":"#000"},{"offset":0.7696,"color":"rgba(0,0,0,0)"},{"offset":0.7824,"color":"rgba(0,0,0,0)"},
        {"offset":0.784,"color":"#000"},{"offset":0.7856,"color":"rgba(0,0,0,0)"},{"offset":0.7984,"color":"rgba(0,0,0,0)"},
        {"offset":0.8,"color":"#000"},{"offset":0.8016,"color":"rgba(0,0,0,0)"},{"offset":0.8144,"color":"rgba(0,0,0,0)"},
        {"offset":0.816,"color":"#000"},{"offset":0.8176,"color":"rgba(0,0,0,0)"},{"offset":0.8304,"color":"rgba(0,0,0,0)"},
        {"offset":0.832,"color":"#000"},{"offset":0.8336,"color":"rgba(0,0,0,0)"},{"offset":0.8464,"color":"rgba(0,0,0,0)"},
        {"offset":0.848,"color":"#000"},{"offset":0.8496,"color":"rgba(0,0,0,0)"},{"offset":0.8624,"color":"rgba(0,0,0,0)"},
        {"offset":0.864,"color":"#000"},{"offset":0.8656,"color":"rgba(0,0,0,0)"},{"offset":0.8784,"color":"rgba(0,0,0,0)"},
        {"offset":0.88,"color":"#000"},{"offset":0.8816,"color":"rgba(0,0,0,0)"},{"offset":0.8944,"color":"rgba(0,0,0,0)"},
        {"offset":0.896,"color":"#000"},{"offset":0.8976,"color":"rgba(0,0,0,0)"},{"offset":0.9104,"color":"rgba(0,0,0,0)"},
        {"offset":0.912,"color":"#000"},{"offset":0.9136,"color":"rgba(0,0,0,0)"},{"offset":0.9264,"color":"rgba(0,0,0,0)"},
        {"offset":0.928,"color":"#000"},{"offset":0.9296,"color":"rgba(0,0,0,0)"},{"offset":0.9424,"color":"rgba(0,0,0,0)"},
        {"offset":0.944,"color":"#000"},{"offset":0.9456,"color":"rgba(0,0,0,0)"},{"offset":0.9584,"color":"rgba(0,0,0,0)"},
        {"offset":0.96,"color":"#000"},{"offset":0.9616,"color":"rgba(0,0,0,0)"},{"offset":0.9744,"color":"rgba(0,0,0,0)"},
        {"offset":0.976,"color":"#000"},{"offset":0.9776,"color":"rgba(0,0,0,0)"},{"offset":0.9904,"color":"rgba(0,0,0,0)"},
        {"offset":0.992,"color":"#000"},{"offset":0.9936,"color":"rgba(0,0,0,0)"},{"offset":1,"color":"rgba(0,0,0,0)"}
            ]}}},
            {"mark": {"type": "area", "fill": {"gradient": "linear", "x1": 0, "y1": 1, "x2": 0, "y2": 0, "stops": [
        {"offset":0,"color":"#000"},{"offset":0.006,"color":"rgba(0,0,0,0)"},{"offset":0.054,"color":"rgba(0,0,0,0)"},
        {"offset":0.06,"color":"#000"},{"offset":0.066,"color":"rgba(0,0,0,0)"},{"offset":0.114,"color":"rgba(0,0,0,0)"},
        {"offset":0.12,"color":"#000"},{"offset":0.126,"color":"rgba(0,0,0,0)"},{"offset":0.174,"color":"rgba(0,0,0,0)"},
        {"offset":0.18,"color":"#000"},{"offset":0.186,"color":"rgba(0,0,0,0)"},{"offset":0.234,"color":"rgba(0,0,0,0)"},
        {"offset":0.24,"color":"#000"},{"offset":0.246,"color":"rgba(0,0,0,0)"},{"offset":0.294,"color":"rgba(0,0,0,0)"},
        {"offset":0.3,"color":"#000"},{"offset":0.306,"color":"rgba(0,0,0,0)"},{"offset":0.354,"color":"rgba(0,0,0,0)"},
        {"offset":0.36,"color":"#000"},{"offset":0.366,"color":"rgba(0,0,0,0)"},{"offset":0.414,"color":"rgba(0,0,0,0)"},
        {"offset":0.42,"color":"#000"},{"offset":0.426,"color":"rgba(0,0,0,0)"},{"offset":0.474,"color":"rgba(0,0,0,0)"},
        {"offset":0.48,"color":"#000"},{"offset":0.486,"color":"rgba(0,0,0,0)"},{"offset":0.534,"color":"rgba(0,0,0,0)"},
        {"offset":0.54,"color":"#000"},{"offset":0.546,"color":"rgba(0,0,0,0)"},{"offset":0.594,"color":"rgba(0,0,0,0)"},
        {"offset":0.6,"color":"#000"},{"offset":0.606,"color":"rgba(0,0,0,0)"},{"offset":0.654,"color":"rgba(0,0,0,0)"},
        {"offset":0.66,"color":"#000"},{"offset":0.666,"color":"rgba(0,0,0,0)"},{"offset":0.714,"color":"rgba(0,0,0,0)"},
        {"offset":0.72,"color":"#000"},{"offset":0.726,"color":"rgba(0,0,0,0)"},{"offset":0.774,"color":"rgba(0,0,0,0)"},
        {"offset":0.78,"color":"#000"},{"offset":0.786,"color":"rgba(0,0,0,0)"},{"offset":0.834,"color":"rgba(0,0,0,0)"},
        {"offset":0.84,"color":"#000"},{"offset":0.846,"color":"rgba(0,0,0,0)"},{"offset":0.894,"color":"rgba(0,0,0,0)"},
        {"offset":0.9,"color":"#000"},{"offset":0.906,"color":"rgba(0,0,0,0)"},{"offset":0.954,"color":"rgba(0,0,0,0)"},
        {"offset":0.96,"color":"#000"},{"offset":0.966,"color":"rgba(0,0,0,0)"},{"offset":1,"color":"rgba(0,0,0,0)"}
            ]}}},
            {"mark": {"type": "area", "color": "#cc2222", "blend": "screen"}},
            {"mark": {"type": "area", "fillOpacity": 0, "strokeWidth": 1},
             "encoding": {"stroke": {"datum": "rgp", "scale": {"range": ["#cc2222"]},
               "legend": {"orient": "none", "legendX": 1280, "legendY": 244, "title": null, "labelExpr": "''", "symbolType": "M1,-1L1,1", "symbolSize": 2500, "symbolStrokeWidth": 1.5, "symbolStrokeColor": "#cc2222", "symbolOpacity": 1, "padding": 0, "labelOffset": 0}}}}
          ]
        },
        {
          "mark": {"type": "line", "strokeWidth": 6},
          "encoding": {
            "color": {"datum": "gp", "scale": {"range": ["#ff1010"]},
              "legend": {"orient": "none", "legendX": -140, "legendY": 231, "title": null, "labelExpr": "''", "symbolType": "M-1,-1L-1,1", "symbolSize": 2916, "symbolStrokeWidth": 5, "padding": 0, "labelOffset": 0}},
            "y": {"field": "gp", "type": "quantitative", "scale": {"domain": [0, 125], "nice": false},
            "axis": {"orient": "left", "title": "Gas Acumulado ( MMpc )", "titleAngle": 270, "titleX": -137, "titleY": 224, "titleAlign": "left", "titleBaseline": "middle",
              "values": [0, 6.25, 12.5, 18.75, 25, 31.25, 37.5, 43.75, 50, 56.25, 62.5, 68.75, 75, 81.25, 87.5, 93.75, 100, 106.25, 112.5, 118.75, 125],
              "labelExpr": "datum.value % 25 == 0 ? format(datum.value, 'd') : ''",
              "tickSize": {"condition": {"test": "datum.value % 25 == 0", "value": 15}, "value": 5},
              "labelPadding": 8, "domainColor": "#333333"}}}
        }
      ],
      "resolve": {"scale": {"y": "independent"}}
    }
  ],
  "config": {
    "font": "DejaVu Sans",
    "axis": {"labelFont": "DejaVu Sans", "labelFontSize": 15, "labelColor": "#222222", "titleFont": "DejaVu Sans", "titleFontSize": 17, "titleFontWeight": "normal", "titleColor": "#222222", "tickColor": "#333333", "grid": false}
  }
}
